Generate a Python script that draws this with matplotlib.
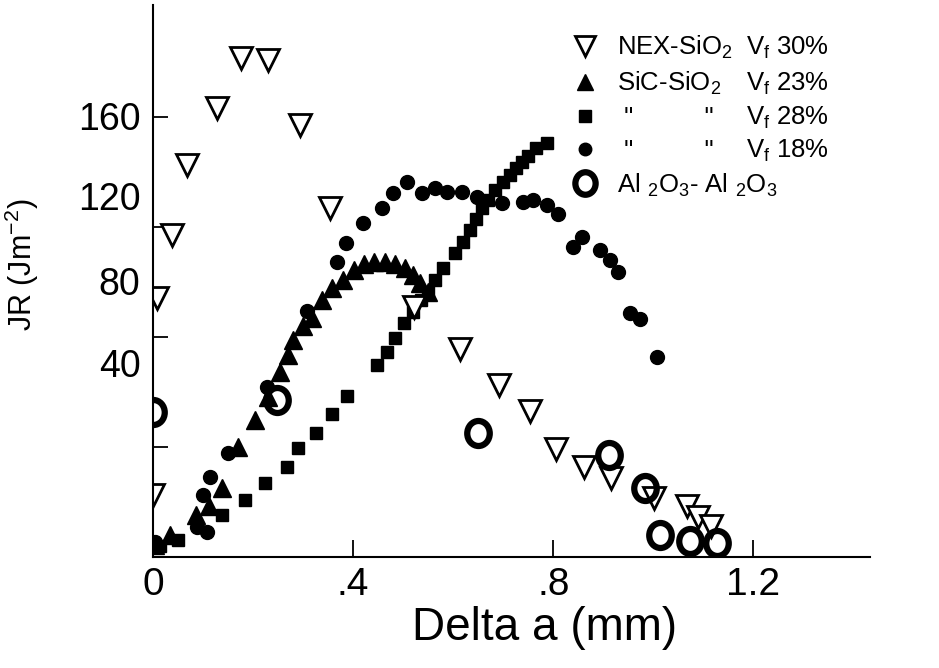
import matplotlib
matplotlib.use('Agg')
import matplotlib.pyplot as plt
from matplotlib.path import Path

plt.rcParams['font.family'] = ['Liberation Sans', 'DejaVu Sans']
plt.rcParams['mathtext.fontset'] = 'custom'
plt.rcParams['mathtext.rm'] = 'Liberation Sans'
plt.rcParams['mathtext.it'] = 'Liberation Sans:italic'
plt.rcParams['mathtext.default'] = 'regular'

# NEX-SiO2, Vf 30%  (open down triangles)
nex_x = [0.000, 0.008, 0.038, 0.068, 0.128, 0.176, 0.230, 0.294, 0.354, 0.522,
         0.614, 0.692, 0.754, 0.806, 0.862, 0.916, 1.002, 1.068, 1.090, 1.116]
nex_y = [22.5, 94.2, 117.1, 142.5, 163.3, 181.5, 180.7, 157.1, 126.9, 90.9,
         75.6, 62.5, 53.1, 39.3, 32.7, 28.7, 21.5, 18.5, 14.5, 11.3]

# SiC-SiO2, Vf 23%  (filled up triangles)
sic23_x = [0.004, 0.034, 0.086, 0.112, 0.138, 0.170, 0.204, 0.230, 0.254, 0.270,
           0.280, 0.300, 0.318, 0.338, 0.358, 0.380, 0.402, 0.422, 0.442, 0.464,
           0.484, 0.504, 0.520, 0.534, 0.550]
sic23_y = [4.4, 8.0, 15.3, 18.5, 25.1, 40.0, 49.8, 58.2, 67.3, 73.5,
           78.9, 84.0, 86.9, 93.5, 97.8, 100.7, 104.4, 106.5, 107.3, 107.3,
           106.5, 105.1, 102.5, 99.6, 96.4]

# SiC-SiO2, Vf 28%  (squares)
sic28_x = [0.014, 0.050, 0.138, 0.184, 0.224, 0.268, 0.290, 0.326, 0.358, 0.388,
           0.448, 0.468, 0.484, 0.502, 0.520, 0.536, 0.550, 0.564, 0.580, 0.604,
           0.620, 0.634, 0.646, 0.658, 0.670, 0.684, 0.700, 0.714, 0.726, 0.738,
           0.750, 0.766, 0.788]
sic28_y = [4.0, 6.2, 15.3, 20.7, 26.9, 32.7, 39.6, 45.1, 52.0, 58.5,
           69.8, 74.5, 79.6, 85.1, 89.1, 93.5, 96.4, 100.7, 105.1, 110.5,
           114.5, 118.9, 122.9, 126.9, 129.8, 133.5, 136.4, 138.9, 141.5, 143.6,
           145.8, 148.7, 150.5]

# SiC-SiO2, Vf 18%  (filled circles)
sic18_x = [0.004, 0.088, 0.108, 0.100, 0.114, 0.150, 0.228, 0.308, 0.368, 0.386,
           0.420, 0.458, 0.480, 0.508, 0.538, 0.564, 0.588, 0.618, 0.648, 0.698,
           0.740, 0.760, 0.788, 0.810, 0.840, 0.858, 0.894, 0.914, 0.930, 0.954,
           0.974, 1.008]
sic18_y = [5.5, 10.9, 9.1, 22.5, 29.1, 37.8, 61.8, 89.5, 107.3, 114.2,
           121.5, 126.9, 132.4, 136.4, 132.4, 134.2, 132.7, 132.7, 130.9, 128.7,
           129.1, 129.8, 128.0, 124.7, 112.7, 116.4, 111.6, 108.0, 103.6, 88.7,
           86.5, 72.7]

# Al2O3-Al2O3  (thick open rings)
al_x = [0.000, 0.248, 0.650, 0.912, 0.984, 1.014, 1.074, 1.128]
al_y = [52.7, 57.1, 45.1, 37.1, 25.1, 8.0, 5.8, 5.1]

x_ticks = [0, 0.4, 0.8, 1.2]
x_ticklabels = ['0', '.4', '.8', '1.2']
y_tickmarks = [40, 80, 120, 160]
# the y labels in the original sit off their tick marks
y_label_pos = [70.5, 100.4, 131.3, 160.4]
y_ticklabels = ['40', '80', '120', '160']

names = ['NEX-SiO$_2$', 'SiC-SiO$_2$', ' "          "', ' "          "',
         'Al $_2$O$_3$- Al $_2$O$_3$']
fractions = ['V$_f$ 30%', 'V$_f$ 23%', 'V$_f$ 28%', 'V$_f$ 18%']

# slightly tall ring, like a bold letter O
circ = Path.unit_circle()
ring = Path(circ.vertices * [0.9, 1.0], circ.codes)

fig = plt.figure(figsize=(9.39, 6.68), dpi=100)
ax = fig.add_axes([0.163, 0.166, 0.764, 0.826])

h28, = ax.plot(sic28_x, sic28_y, 's', color='black', ms=9, ls='none')
h18, = ax.plot(sic18_x, sic18_y, 'o', color='black', ms=10, ls='none')
h23, = ax.plot(sic23_x, sic23_y, '^', color='black', ms=13, ls='none')
hnex, = ax.plot(nex_x, nex_y, 'v', mfc='white', mec='black', mew=2, ms=16, ls='none')
hal, = ax.plot(al_x, al_y, marker=ring, mfc='none', mec='black', mew=4.5, ms=18, ls='none')

ax.set_xlim(0, 1.434)
ax.set_ylim(0, 200.7)
for s in ['top', 'right']:
    ax.spines[s].set_visible(False)
for s in ['left', 'bottom']:
    ax.spines[s].set_linewidth(1.5)

ax.set_xticks(x_ticks)
ax.set_xticklabels(x_ticklabels, fontsize=28)
ax.tick_params(axis='x', direction='in', length=12, width=1.3, pad=7)

ax.set_yticks(y_label_pos)
ax.set_yticklabels(y_ticklabels, fontsize=27)
ax.set_yticks(y_tickmarks, minor=True)
ax.tick_params(axis='y', which='major', length=0, pad=9)
ax.tick_params(axis='y', which='minor', direction='in', length=11, width=1.3)

fig.text(545 / 939, 1 - 628 / 668, 'Delta a (mm)', ha='center', va='center', fontsize=33)
fig.text(22 / 939, 1 - 265 / 668, 'JR (Jm$^{-2}$)', rotation=90,
         ha='center', va='center', fontsize=22)

leg = ax.legend([hnex, h23, h28, h18, hal], names, loc='upper left',
                bbox_to_anchor=(0.584, 0.948), frameon=False, fontsize=18.5,
                handletextpad=0.75, labelspacing=0.34, borderpad=0,
                borderaxespad=0, handlelength=1.0, markerscale=0.9)

fig.canvas.draw()
inv = ax.transAxes.inverted()
for t, frac in zip(leg.get_texts(), fractions):
    bb = t.get_window_extent()
    yc = inv.transform((0, (bb.y0 + bb.y1) / 2))[1]
    ax.text(0.827, yc, frac, transform=ax.transAxes, va='center', fontsize=18.5)

fig.savefig('out.png', dpi=100)
